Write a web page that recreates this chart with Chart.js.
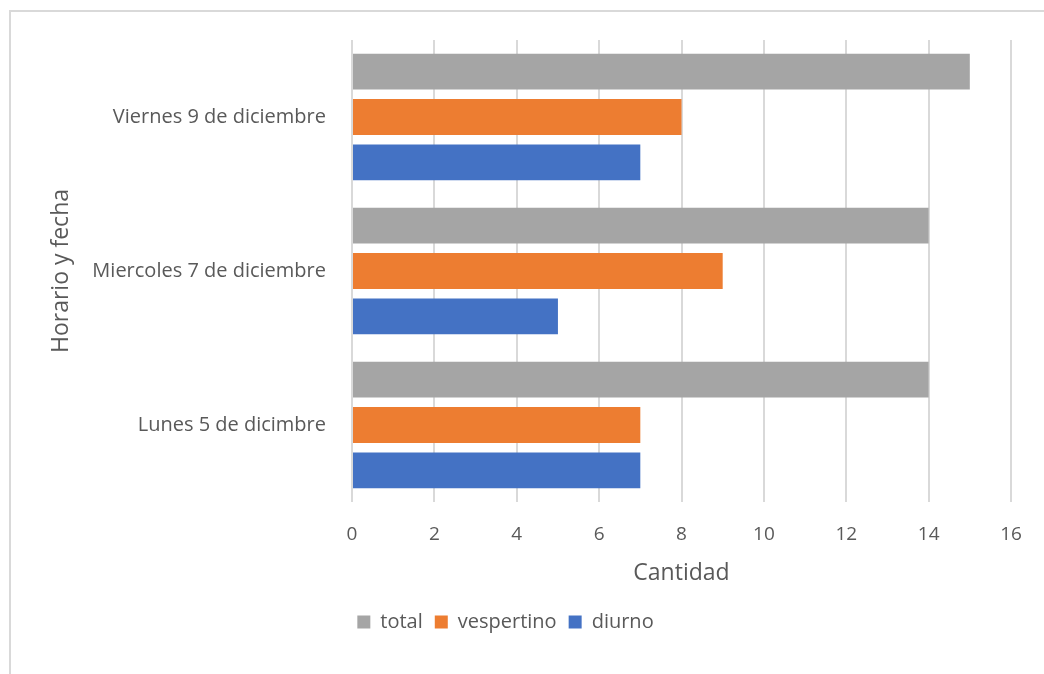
<!DOCTYPE html>
<html>
<head>
<meta charset="utf-8">
<script src="https://cdn.jsdelivr.net/npm/chart.js@4.4.0/dist/chart.umd.min.js"></script>
<style>
  body { margin:0; background:#fff; }
  #frame { position:absolute; left:9px; top:10px; width:1100px; height:700px;
           border-left:2px solid #d9d9d9; border-top:2px solid #d9d9d9; }
  #wrap { position:absolute; left:0; top:0; width:1044px; height:674px; }
</style>
</head>
<body>
<div id="frame"></div>
<div id="wrap"><canvas id="chart1"></canvas></div>
<script>
// categories top to bottom (chart.js draws first label on top)
const dias = ['Viernes 9 de diciembre', 'Miercoles 7 de diciembre', 'Lunes 5 de dicimbre'];
const total = [15, 14, 14];
const vespertino = [8, 9, 7];
const diurno = [7, 5, 7];
const xTicks = [0, 2, 4, 6, 8, 10, 12, 14, 16];

const txt = '#595959';
const fam = '"Open Sans", sans-serif';

var data = {
  labels: dias,
  datasets: [
    { label: 'total', data: total, backgroundColor: '#A5A5A5' },
    { label: 'vespertino', data: vespertino, backgroundColor: '#ED7D31' },
    { label: 'diurno', data: diurno, backgroundColor: '#4472C4' }
  ]
};

var config = {
  type: 'bar',
  data,
  options: {
    indexAxis: 'y',
    responsive: true,
    maintainAspectRatio: false,
    animation: false,
    categoryPercentage: 0.885,
    barPercentage: 0.79,
    layout: { padding: { top: 40, right: 33, left: 0, bottom: 32 } },
    plugins: {
      tooltip: { enabled: false },
      legend: {
        position: 'bottom',
        labels: {
          color: txt, font: { family: fam, size: 20 },
          boxWidth: 13, boxHeight: 13, padding: 12
        }
      }
    },
    scales: {
      x: {
        min: 0, max: 16,
        afterBuildTicks: s => { s.ticks = xTicks.map(v => ({ value: v })); },
        afterFit: s => { s.height = 98; },
        grid: { color: '#d9d9d9', lineWidth: 2, drawTicks: false },
        border: { display: false },
        ticks: { color: txt, font: { family: fam, size: 19 }, padding: 21 },
        title: { display: true, text: 'Cantidad', color: txt,
                 font: { family: fam, size: 23 }, padding: { top: 8, bottom: 13 } }
      },
      y: {
        afterFit: s => { s.width = 352; },
        grid: { display: false },
        border: { display: false },
        ticks: { color: txt, font: { family: fam, size: 20 }, padding: 18 },
        title: { display: true, text: 'Horario y fecha', color: txt,
                 font: { family: fam, size: 23 }, padding: { top: 48, bottom: 0 } }
      }
    }
  }
};

var myChart = new Chart(document.getElementById('chart1'), config);
</script>
</body>
</html>
